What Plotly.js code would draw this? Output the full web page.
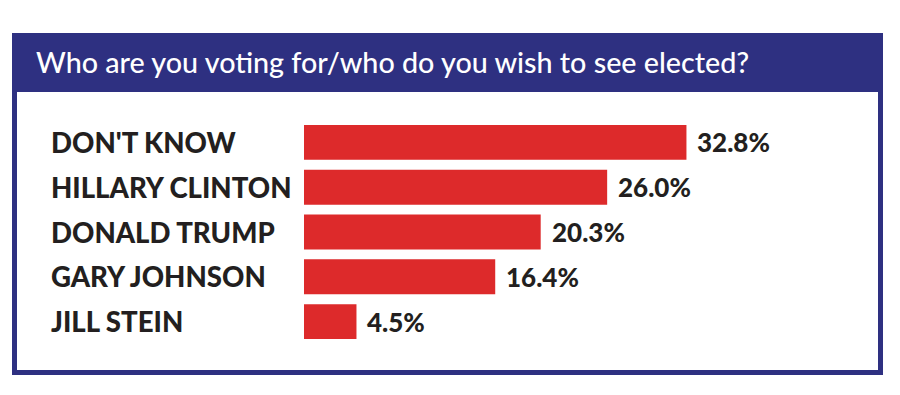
<!DOCTYPE html>
<html><head><meta charset="utf-8">
<script src="https://cdn.plot.ly/plotly-3.0.1.min.js"></script>
<style>html,body{margin:0;padding:0;background:#fff}#chart{width:900px;height:395px}</style>
</head><body><div id="chart"></div>
<script>
var categories = ["DON'T KNOW", "HILLARY CLINTON", "DONALD TRUMP", "GARY JOHNSON", "JILL STEIN"];
var values = [32.8, 26.0, 20.3, 16.4, 4.5];
var valueLabels = ["32.8%", "26.0%", "20.3%", "16.4%", "4.5%"];
var titleText = "Who are you voting for/who do you wish to see elected?";

var W = 900, H = 395;
var mL = 304, mR = 30, mT = 120, mB = 51;
var pw = W - mL - mR, ph = H - mT - mB;
function px(p){ return (p - mL) / pw; }
function py(p){ return 1 - (p - mT) / ph; }
var navy = "#2e3081", red = "#dd2a2b", ink = "#231f20";
var font = "Lato, 'Open Sans', sans-serif";

var annotations = [];
categories.forEach(function(c, i){
  annotations.push({xref:"paper", yref:"y", x:px(49), y:c, xanchor:"left", yanchor:"middle",
    text:c, showarrow:false, font:{family:font, size:27.6, weight:900, color:ink}});
  annotations.push({xref:"x", yref:"y", x:values[i], y:c, xanchor:"left", yanchor:"middle", xshift:9,
    text:valueLabels[i], showarrow:false, font:{family:font, size:26, weight:900, color:ink}});
});
annotations.push({xref:"paper", yref:"paper", x:px(34), y:py(62), xanchor:"left", yanchor:"middle",
  text:titleText, showarrow:false, font:{family:font, size:28.7, weight:500, color:"#ffffff"}});

var shapes = [
  {type:"rect", xref:"paper", yref:"paper", x0:px(12), x1:px(883), y0:py(33), y1:py(92), fillcolor:navy, line:{width:0}, layer:"below"},
  {type:"rect", xref:"paper", yref:"paper", x0:px(14.5), x1:px(880.5), y0:py(35.5), y1:py(372.5), fillcolor:"rgba(0,0,0,0)", line:{color:navy, width:5}, layer:"below"}
];

Plotly.newPlot("chart", [{
  type:"bar", orientation:"h", x:values, y:categories,
  marker:{color:red}, hoverinfo:"none"
}], {
  width:W, height:H, margin:{l:mL, r:mR, t:mT, b:mB},
  paper_bgcolor:"#ffffff", plot_bgcolor:"rgba(0,0,0,0)",
  bargap:0.22, showlegend:false,
  xaxis:{range:[0, pw/11.66], visible:false, fixedrange:true},
  yaxis:{type:"category", categoryorder:"array", categoryarray:categories, autorange:"reversed",
         showticklabels:false, showgrid:false, zeroline:false, showline:false, ticks:"", fixedrange:true},
  annotations:annotations, shapes:shapes
}, {displayModeBar:false, staticPlot:true});
</script></body></html>
